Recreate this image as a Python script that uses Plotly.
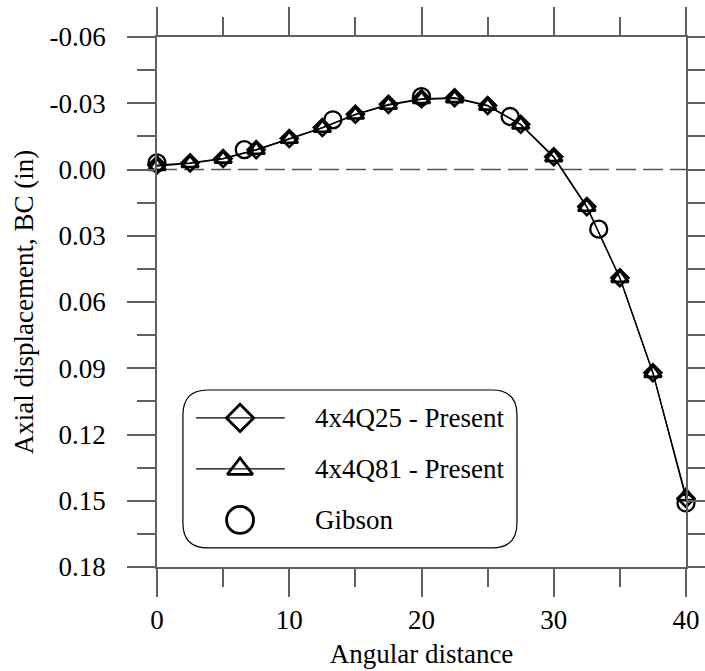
import plotly.graph_objects as go

# ---------------- data ----------------
angle_present = [0, 2.5, 5, 7.5, 10, 12.5, 15, 17.5, 20, 22.5, 25, 27.5, 30, 32.5, 35, 37.5, 40]
disp_q25 = [-0.002, -0.003, -0.005, -0.009, -0.014, -0.019, -0.025, -0.0295, -0.032, -0.0325,
            -0.029, -0.0205, -0.0058, 0.0168, 0.049, 0.092, 0.149]
disp_q81 = [-0.0015, -0.0028, -0.0048, -0.0088, -0.0138, -0.0188, -0.0248, -0.0292, -0.0318, -0.0322,
            -0.0288, -0.0203, -0.0055, 0.017, 0.0492, 0.0922, 0.148]
angle_gibson = [0, 6.6, 13.3, 20, 26.7, 33.4, 40]
disp_gibson = [-0.003, -0.009, -0.0225, -0.033, -0.024, 0.027, 0.151]

x_tickvals = [0, 10, 20, 30, 40]
x_ticktext = ["0", "10", "20", "30", "40"]
x_minor = [5, 15, 25, 35]
y_tickvals = [-0.06, -0.03, 0.0, 0.03, 0.06, 0.09, 0.12, 0.15, 0.18]
y_ticktext = ["-0.06", "-0.03", "0.00", "0.03", "0.06", "0.09", "0.12", "0.15", "0.18"]
y_minor = [-0.045, -0.015, 0.015, 0.045, 0.075, 0.105, 0.135, 0.165]

series_names = ["4x4Q25 - Present", "4x4Q81 - Present", "Gibson"]

FONT = '"Liberation Serif", "Times New Roman", Times, serif'
AX = "#606060"
FS = 27

fig = go.Figure()

# main traces
fig.add_trace(go.Scatter(x=angle_present, y=disp_q25, mode="lines+markers", name=series_names[0],
                         line=dict(color="black", width=1.3),
                         marker=dict(symbol="diamond-open", size=13, color="black", line=dict(width=2.6, color="black")),
                         cliponaxis=False, showlegend=False))
fig.add_trace(go.Scatter(x=angle_present, y=disp_q81, mode="lines+markers", name=series_names[1],
                         line=dict(color="black", width=1.3),
                         marker=dict(symbol="triangle-up-open", size=15, color="black", line=dict(width=2.6, color="black")),
                         cliponaxis=False, showlegend=False))
fig.add_trace(go.Scatter(x=angle_gibson, y=disp_gibson, mode="markers", name=series_names[2],
                         marker=dict(symbol="circle-open", size=17, color="black", line=dict(width=2.3, color="black")),
                         cliponaxis=False, showlegend=False))

# ---------------- manual legend (glyph axes x2/y2 spanning legend box) ----------------
box_x0, box_x1 = 0.049, 0.6805
box_y0, box_y1 = 0.036, 0.334
rows = [0.823, 0.5, 0.177]
symbols = ["diamond-open", "triangle-up-open", "circle-open"]
sizes = [21, 22, 27]
has_line = [True, True, False]
for r, s, sz, hl in zip(rows, symbols, sizes, has_line):
    if hl:
        fig.add_trace(go.Scatter(x=[0.039, 0.305], y=[r, r], mode="lines", xaxis="x2", yaxis="y2",
                                 line=dict(color="black", width=1.3), showlegend=False, hoverinfo="skip"))
    fig.add_trace(go.Scatter(x=[0.171], y=[r], mode="markers", xaxis="x2", yaxis="y2",
                             marker=dict(symbol=s, size=sz, color="black", line=dict(width=2.8, color="black")),
                             showlegend=False, hoverinfo="skip", cliponaxis=False))
for r, name in zip(rows, series_names):
    fig.add_annotation(x=0.389, y=r, xref="x2", yref="y2", text=name, showarrow=False,
                       xanchor="left", yanchor="middle", font=dict(family=FONT, size=FS, color="black"))

# rounded legend box
rx = 25 / 529
ry = 25 / 530
path = (f"M{box_x0+rx},{box_y1} L{box_x1-rx},{box_y1} "
        f"Q{box_x1},{box_y1} {box_x1},{box_y1-ry} "
        f"L{box_x1},{box_y0+ry} Q{box_x1},{box_y0} {box_x1-rx},{box_y0} "
        f"L{box_x0+rx},{box_y0} Q{box_x0},{box_y0} {box_x0},{box_y0+ry} "
        f"L{box_x0},{box_y1-ry} Q{box_x0},{box_y1} {box_x0+rx},{box_y1} Z")
fig.add_shape(type="path", path=path, xref="paper", yref="paper",
              line=dict(color="black", width=1.2), fillcolor="rgba(0,0,0,0)", layer="above")

# dashed zero line
fig.add_shape(type="line", x0=0, x1=40, y0=0, y1=0, xref="x", yref="y",
              line=dict(color="#555555", width=1.5, dash="20px,7px"), layer="below")

axis_common = dict(showgrid=False, zeroline=False, showline=True, linecolor=AX, linewidth=1.5,
                   mirror="ticks", ticks="outside", ticklen=28, tickwidth=1.5, tickcolor=AX,
                   automargin=False,
                   tickfont=dict(family=FONT, size=FS, color="black"))

fig.update_layout(
    width=705, height=671,
    margin=dict(l=157, r=19, t=37, b=104),
    paper_bgcolor="white", plot_bgcolor="white",
    font=dict(family=FONT),
    showlegend=False,
    xaxis=dict(range=[0, 40], tickmode="array", tickvals=x_tickvals, ticktext=x_ticktext,
               minor=dict(tickmode="array", tickvals=x_minor, ticks="outside", ticklen=18,
                          tickwidth=1.5, tickcolor=AX),
               ticklabelstandoff=0,
               title=dict(text="Angular distance", font=dict(family=FONT, size=FS, color="black"), standoff=10),
               **axis_common),
    yaxis=dict(range=[0.18, -0.06], tickmode="array", tickvals=y_tickvals, ticktext=y_ticktext,
               minor=dict(tickmode="array", tickvals=y_minor, ticks="outside", ticklen=18,
                          tickwidth=1.5, tickcolor=AX),
               ticklabelstandoff=16,
               title=dict(text="Axial displacement, BC (in)", font=dict(family=FONT, size=FS, color="black"), standoff=8),
               **axis_common),
    xaxis2=dict(domain=[box_x0, box_x1], range=[0, 1], visible=False, fixedrange=True, anchor="y2"),
    yaxis2=dict(domain=[box_y0, box_y1], range=[0, 1], visible=False, fixedrange=True, anchor="x2"),
)

fig.write_html("out.html",
               config={"displayModeBar": False},
               post_script="document.body.style.margin='0';document.body.style.overflow='hidden';")
